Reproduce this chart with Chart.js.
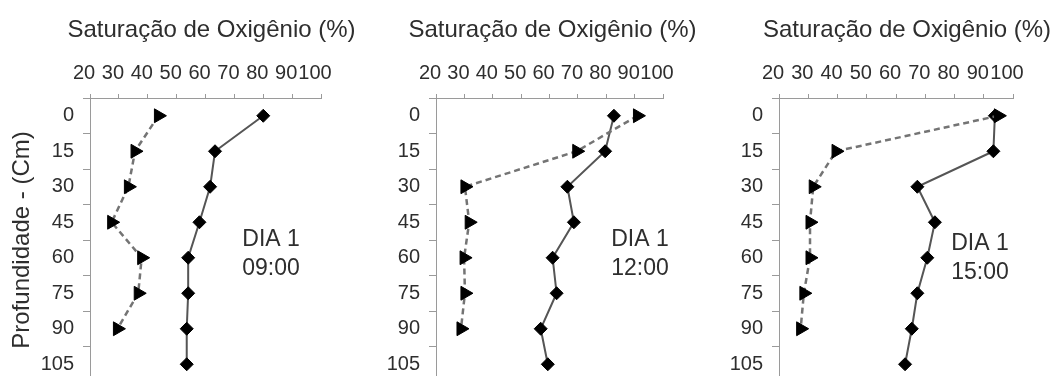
<!DOCTYPE html>
<html lang="pt">
<head>
<meta charset="utf-8">
<title>Saturação de Oxigênio – DIA 1</title>
<script src="https://cdn.jsdelivr.net/npm/chart.js@4/dist/chart.umd.min.js"></script>
<style>
  html, body { margin: 0; padding: 0; background: #fff; overflow: hidden; }
  body { width: 1056px; height: 376px; position: relative; }
  canvas { position: absolute; top: 0; }
</style>
</head>
<body>
<canvas id="p1" width="390" height="400" style="left:0px"></canvas>
<canvas id="p2" width="390" height="400" style="left:352px"></canvas>
<canvas id="p3" width="390" height="400" style="left:704px"></canvas>
<script>
// Profundidade (cm) – rótulos do eixo vertical
const depthLabels = ['0', '15', '30', '45', '60', '75', '90', '105'];
// Eixo de saturação (%)
const satMin = 20;
const satMax = 100;
const satStep = 10;
const dayLabel = 'DIA 1';
const hours = ['09:00', '12:00', '15:00'];

// Perfis de saturação de oxigênio (%) por profundidade
const solid0900  = [80.0, 63.3, 61.6, 57.9, 54.0, 54.0, 53.5, 53.5];
const dashed0900 = [43.7, 35.6, 33.3, 27.5, 37.9, 36.7, 29.5];
const solid1200  = [82.7, 79.6, 66.3, 68.6, 61.1, 62.5, 56.9, 59.4];
const dashed1200 = [91.0, 69.6, 30.2, 31.7, 29.9, 30.2, 28.8];
const solid1500  = [93.8, 93.3, 67.3, 73.3, 70.7, 67.3, 65.4, 63.1];
const dashed1500 = [95.0, 39.5, 31.7, 30.6, 30.6, 28.5, 27.4];

const FONT = "'Liberation Sans', Arial, Helvetica, sans-serif";
const FONT_NARROW = "'Liberation Sans Narrow', 'Arial Narrow', 'Liberation Sans', Arial, sans-serif";
const TEXT = '#2e2e2e';
const AXIS = '#9a9a9a';

// Título superior, rótulo do painel e título do eixo vertical
const panelText = {
  id: 'panelText',
  afterDraw(chart, args, o) {
    const { ctx, chartArea } = chart;
    const x = chart.scales.x;
    ctx.save();
    ctx.fillStyle = TEXT;
    ctx.textAlign = 'center';
    ctx.textBaseline = 'alphabetic';
    ctx.font = '24px ' + FONT;
    ctx.fillText('Saturação de Oxigênio (%)',
      (chartArea.left + chartArea.right) / 2 + o.titleShift, 37);

    ctx.font = '23px ' + FONT;
    const tx = x.getPixelForValue(o.tagValue);
    ctx.fillText(dayLabel, tx, o.tagBase);
    ctx.fillText(o.hour, tx, o.tagBase + 29);

    if (o.yTitle) {
      ctx.font = '24px ' + FONT;
      ctx.translate(22, (chartArea.top + chartArea.bottom) / 2);
      ctx.rotate(-Math.PI / 2);
      ctx.textBaseline = 'middle';
      ctx.fillText('Profundidade - (Cm)', 0, 0);
    }
    ctx.restore();
  }
};

function makePanel(id, solid, dashed, p) {
  const Y_W = 60, X_H = 41, TOP = 98, BOTTOM = 382, H = 400, W = 390;
  return new Chart(document.getElementById(id), {
    type: 'line',
    data: {
      labels: depthLabels,
      datasets: [
        {
          data: dashed,
          borderColor: '#747474',
          borderWidth: 2.5,
          borderDash: [6, 4],
          pointStyle: 'triangle',
          rotation: 90,
          pointRadius: 8,
          pointBackgroundColor: '#000',
          pointBorderColor: '#000',
          pointBorderWidth: 1,
          tension: 0,
          clip: false
        },
        {
          data: solid,
          borderColor: '#555',
          borderWidth: 2,
          pointStyle: 'rectRot',
          pointRadius: 6.5,
          pointBackgroundColor: '#000',
          pointBorderColor: '#000',
          pointBorderWidth: 1,
          tension: 0,
          clip: false
        }
      ]
    },
    options: {
      indexAxis: 'y',
      responsive: false,
      devicePixelRatio: 1,
      animation: false,
      events: [],
      layout: {
        padding: { left: p.left - Y_W, right: W - p.right, top: TOP - X_H, bottom: H - BOTTOM }
      },
      plugins: {
        legend: { display: false },
        tooltip: { enabled: false },
        panelText: { hour: p.hour, titleShift: p.titleShift, tagValue: p.tagValue, tagBase: p.tagBase, yTitle: p.yTitle }
      },
      scales: {
        x: {
          type: 'linear',
          position: 'top',
          min: satMin,
          max: satMax,
          ticks: {
            stepSize: satStep,
            color: TEXT,
            padding: 9,
            labelOffset: -6,
            maxRotation: 0,
            autoSkip: false,
            font: { family: FONT_NARROW, size: 20 }
          },
          grid: { drawOnChartArea: false, tickLength: 4, color: AXIS, lineWidth: 1 },
          border: { color: AXIS, width: 1 },
          afterFit(s) { s.height = X_H; s.paddingLeft = 0; s.paddingRight = 0; }
        },
        y: {
          type: 'category',
          offset: true,
          ticks: {
            color: TEXT,
            padding: 9,
            autoSkip: false,
            font: { family: FONT, size: 20 }
          },
          grid: { offset: true, drawOnChartArea: false, tickLength: 7, color: AXIS, lineWidth: 1 },
          border: { color: AXIS, width: 1 },
          afterFit(s) { s.width = Y_W; s.paddingTop = 0; s.paddingBottom = 0; }
        }
      }
    },
    plugins: [panelText]
  });
}

makePanel('p1', solid0900, dashed0900,
  { left: 90, right: 321, hour: hours[0], titleShift: 6, tagValue: 82.7, tagBase: 246, yTitle: true });
makePanel('p2', solid1200, dashed1200,
  { left: 436 - 352, right: 663 - 352, hour: hours[1], titleShift: 3, tagValue: 91.9, tagBase: 246, yTitle: false });
makePanel('p3', solid1500, dashed1500,
  { left: 779 - 704, right: 1013 - 704, hour: hours[2], titleShift: 11, tagValue: 88.7, tagBase: 250, yTitle: false });
</script>
</body>
</html>
